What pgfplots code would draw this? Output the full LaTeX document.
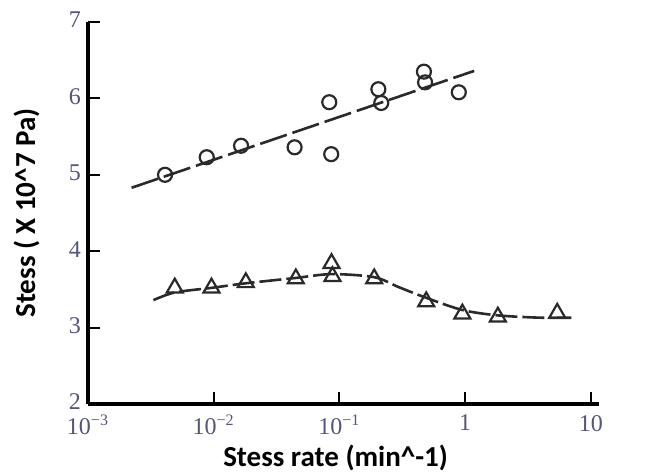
\documentclass[border=0pt]{standalone}
\usepackage{fontspec}
\setmainfont{Liberation Serif}
\newfontfamily\lblfont{Carlito}
\usepackage{pgfplots}
\pgfplotsset{compat=1.18}
\definecolor{tickc}{HTML}{55557A}
\definecolor{datac}{HTML}{2A2A2A}
\begin{document}
\begin{tikzpicture}
\begin{axis}[
  at={(0,0)}, anchor=south west,
  width=255.25pt, height=191pt, scale only axis,
  xmode=log, xmin=1e-3, xmax=11.5, ymin=2, ymax=7,
  axis lines*=left,
  axis line style={line width=1.6pt},
  xtick={1e-3,1e-2,1e-1,1,10},
  xticklabels={10\textsuperscript{−3},10\textsuperscript{−2},10\textsuperscript{−1},1,10},
  ytick={2,3,4,5,6,7},
  xminorticks=false, yminorticks=false,
  tick align=inside,
  major tick length=6pt,
  tick style={black, line width=1pt},
  /pgf/number format/assume math mode=true,
  tick label style={font=\fontsize{12}{12}\selectfont, text=tickc},
  xticklabel style={yshift=-2pt},
  yticklabel style={yshift=1pt},
  xlabel={Stess rate (min\textasciicircum-1)},
  ylabel={Stess ( X 10\textasciicircum7 Pa)},
  xlabel style={font=\lblfont\bfseries\fontsize{14.5}{14.5}\selectfont, at={(axis description cs:0.485,-0.1414)}, anchor=center},
  ylabel style={font=\lblfont\bfseries\fontsize{14.5}{14.5}\selectfont, at={(axis description cs:-0.1205,0.5)}, anchor=center},
  clip=false,
]
% circle series fitted line
\addplot[datac, line width=1.3pt, dash pattern=on 14pt off 3pt] coordinates {(0.00222,4.83) (1.18,6.36)};
% circle data
\addplot[only marks, mark=o, mark size=3.5pt, datac, mark options={line width=1.1pt}] coordinates {
(0.0041,5.00) (0.0088,5.23) (0.0165,5.38) (0.044,5.36) (0.083,5.95) (0.086,5.27)
(0.204,6.12) (0.215,5.94) (0.47,6.35) (0.48,6.21) (0.89,6.08)};
% triangle series smooth curve
\addplot[datac, line width=1.3pt, smooth, dash pattern=on 11pt off 2.5pt] coordinates {
(0.00332,3.36) (0.0049,3.46) (0.0096,3.52) (0.018,3.58) (0.045,3.65) (0.0865,3.70)
(0.189,3.66) (0.296,3.53) (0.49,3.39) (0.95,3.23) (1.82,3.16) (3.9,3.13) (7.6,3.13)};
% triangle data
\addplot[only marks, mark=triangle, mark size=4.6pt, datac, mark options={line width=1.1pt}] coordinates {
(0.0049,3.52) (0.0096,3.52) (0.018,3.59) (0.045,3.64) (0.0865,3.84) (0.088,3.67)
(0.189,3.64) (0.49,3.34) (0.95,3.18) (1.82,3.14) (5.4,3.19)};
\end{axis}
\pgfresetboundingbox
\path[use as bounding box] (-44pt,-35.5pt) rectangle (285pt,202pt);
\end{tikzpicture}
\end{document}
